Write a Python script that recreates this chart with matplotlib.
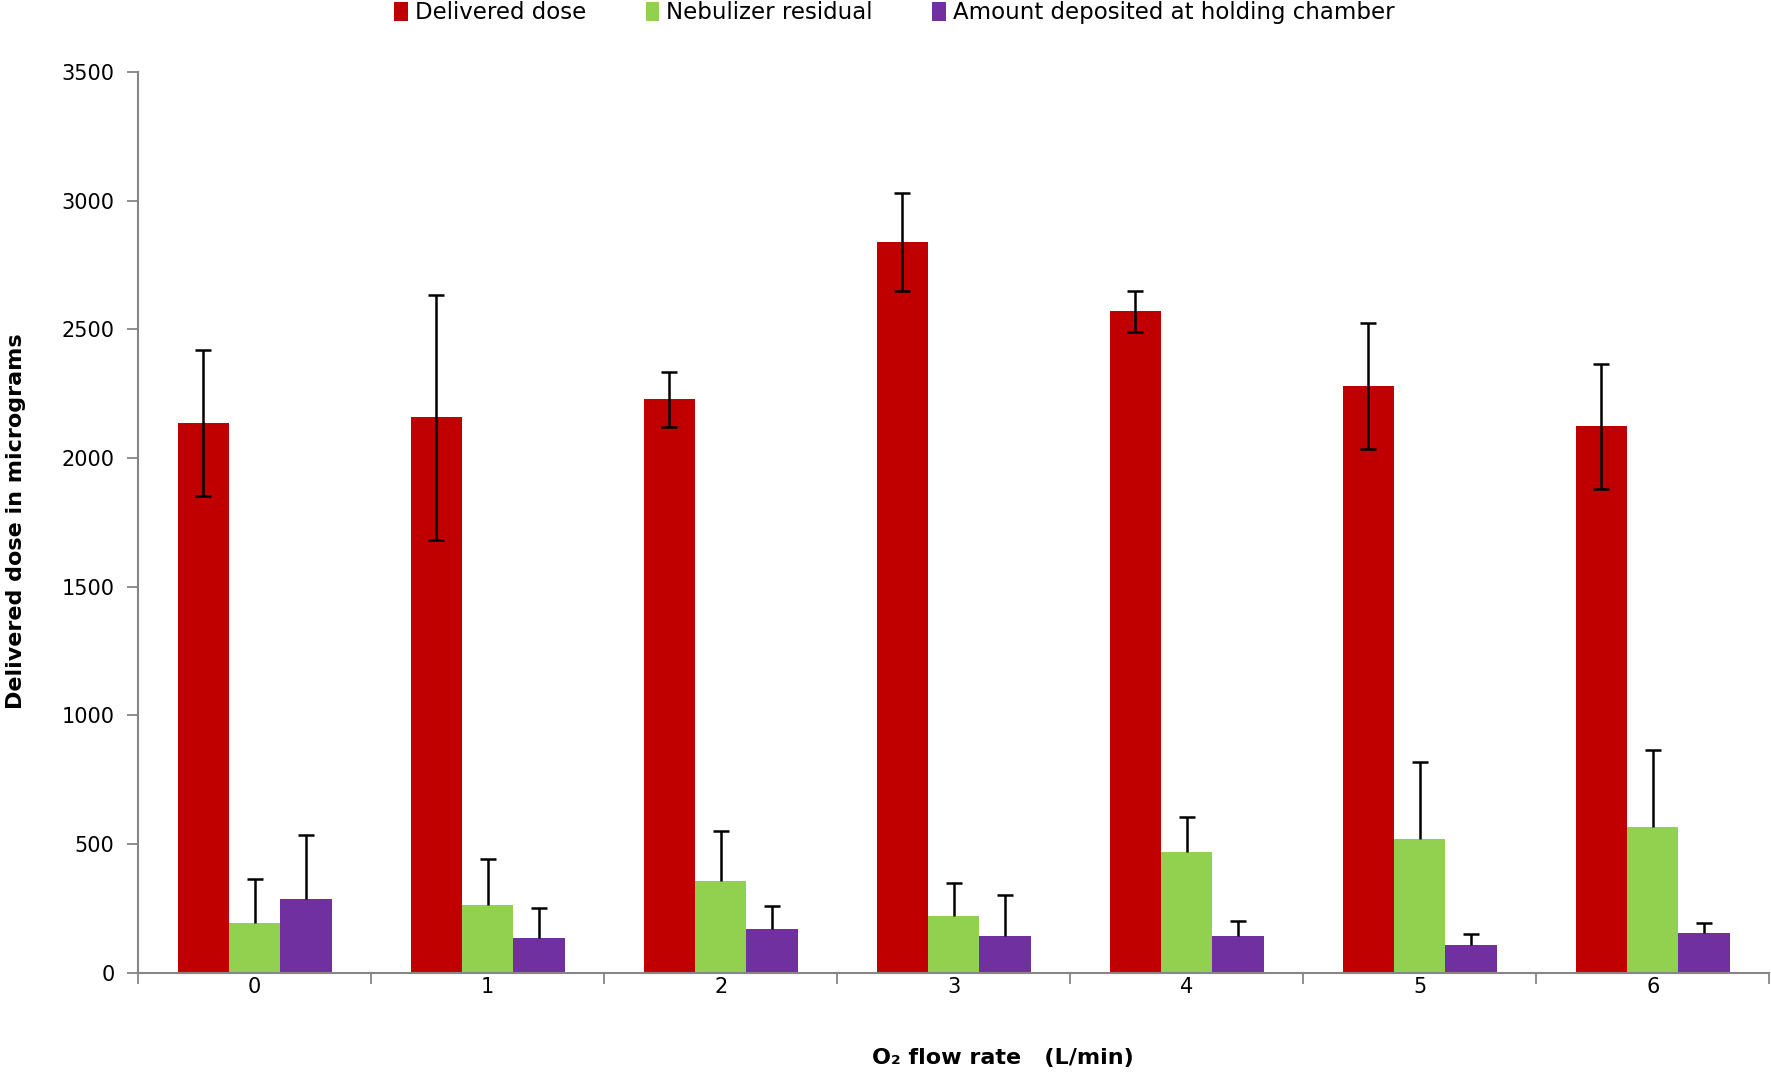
import matplotlib
matplotlib.use("Agg")
import matplotlib.pyplot as plt
import numpy as np

# O2 flow rate (L/min)
flow_rates = ["0", "1", "2", "3", "4", "5", "6"]

delivered = [2136, 2159, 2229, 2839, 2571, 2280, 2124]
delivered_err = [285, 476, 107, 190, 80, 243, 243]

residual = [194, 264, 357, 221, 470, 520, 565]
residual_err = [171, 179, 194, 128, 136, 299, 301]

chamber = [287, 136, 171, 144, 144, 109, 153]
chamber_err = [249, 116, 89, 159, 58, 43, 41]

series_names = ["Delivered dose", "Nebulizer residual", "Amount deposited at holding chamber"]
colors = ["#C00000", "#92D050", "#7030A0"]

fig = plt.figure(figsize=(17.71, 10.75), dpi=100)
ax = fig.add_axes([0.078, 0.095, 0.921, 0.838])

x = np.arange(len(flow_rates))
w = 0.22
ekw = dict(elinewidth=1.8, capthick=1.8, ecolor="black")
zeros = np.zeros(len(x))

b1 = ax.bar(x - w, delivered, w, color=colors[0], yerr=delivered_err,
            capsize=6, error_kw=ekw, label=series_names[0])
b2 = ax.bar(x, residual, w, color=colors[1], yerr=[zeros, residual_err],
            capsize=6, error_kw=ekw, label=series_names[1])
b3 = ax.bar(x + w, chamber, w, color=colors[2], yerr=[zeros, chamber_err],
            capsize=6, error_kw=ekw, label=series_names[2])

# only the upper error bar shows on the small bars: hide the lower caps
for cont, vals in [(b2, residual), (b3, chamber)]:
    for cl in cont.errorbar.lines[1]:
        if np.allclose(cl.get_ydata(), vals):
            cl.set_visible(False)

ax.set_xlim(-0.5, len(x) - 0.5)
ax.set_ylim(0, 3500)
ax.set_yticks(np.arange(0, 3501, 500))

ax.set_xticks(x)
ax.set_xticklabels(flow_rates)
ax.set_xticks(np.arange(-0.5, len(x), 1), minor=True)
ax.tick_params(axis="x", which="major", length=0, pad=3, labelsize=15)
ax.tick_params(axis="x", which="minor", length=8, width=1.3, color="#868686")
ax.tick_params(axis="y", length=8, width=1.3, color="#868686", pad=9, labelsize=15)

for s in ["top", "right"]:
    ax.spines[s].set_visible(False)
for s in ["left", "bottom"]:
    ax.spines[s].set_color("#868686")
    ax.spines[s].set_linewidth(1.5)

fig.text(0.0088, 0.515, "Delivered dose in micrograms", rotation=90,
         ha="center", va="center", fontsize=16, fontweight="bold")
fig.text(0.566, 0.016, "O\u2082 flow rate   (L/min)", ha="center", va="center",
         fontsize=16, fontweight="bold")

fig.legend(handles=[b1, b2, b3], loc="center", bbox_to_anchor=(0.505, 0.988),
           ncol=3, frameon=False, fontsize=16.5, handlelength=0.6, handleheight=0.9,
           handletextpad=0.3, columnspacing=2.6)

fig.savefig("out.png", dpi=100)
